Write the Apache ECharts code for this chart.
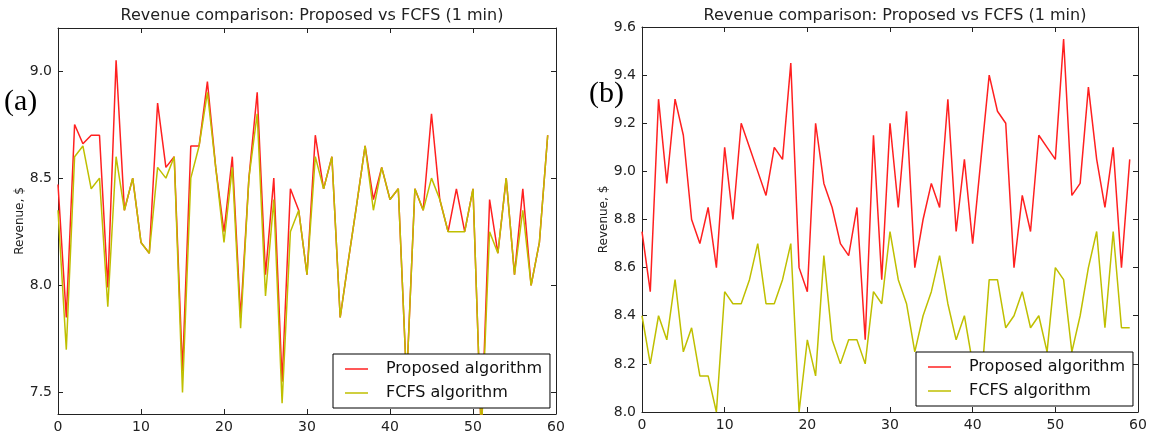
<!DOCTYPE html>
<html lang="en" style="height: 100%;width: 100%">
<head>
    <meta charset="utf-8">
</head>
<body style="height: 100%;width: 100%; margin: 0; background: #fff">
<div id="container" style="width: 1153px; height: 434px;"></div>
<script type="text/javascript" src="https://cdn.jsdelivr.net/npm/echarts@6/dist/echarts.min.js"></script>
<script type="text/javascript">
    // (a) panel values
    var proposedA = [8.47, 7.85, 8.75, 8.66, 8.70, 8.70, 7.99, 9.05, 8.35, 8.50,
        8.20, 8.15, 8.85, 8.55, 8.60, 7.60, 8.65, 8.65, 8.95, 8.55,
        8.25, 8.60, 7.85, 8.50, 8.90, 8.05, 8.50, 7.55, 8.45, 8.35,
        8.05, 8.70, 8.45, 8.60, 7.85, 8.12, 8.38, 8.65, 8.40, 8.55,
        8.40, 8.45, 7.55, 8.45, 8.35, 8.80, 8.40, 8.25, 8.45, 8.25,
        8.45, 7.30, 8.40, 8.15, 8.50, 8.05, 8.45, 8.00, 8.20, 8.70];
    var fcfsA = [8.35, 7.70, 8.60, 8.65, 8.45, 8.50, 7.90, 8.60, 8.35, 8.50,
        8.20, 8.15, 8.55, 8.50, 8.60, 7.50, 8.50, 8.65, 8.90, 8.55,
        8.20, 8.55, 7.80, 8.50, 8.80, 7.95, 8.40, 7.45, 8.25, 8.35,
        8.05, 8.60, 8.45, 8.60, 7.85, 8.12, 8.38, 8.65, 8.35, 8.55,
        8.40, 8.45, 7.55, 8.45, 8.35, 8.50, 8.40, 8.25, 8.25, 8.25,
        8.45, 7.30, 8.25, 8.15, 8.50, 8.05, 8.35, 8.00, 8.20, 8.70];

    // (b) panel values
    var proposedB = [8.75, 8.50, 9.30, 8.95, 9.30, 9.15, 8.80, 8.70, 8.85, 8.60,
        9.10, 8.80, 9.20, 9.10, 9.00, 8.90, 9.10, 9.05, 9.45, 8.60,
        8.50, 9.20, 8.95, 8.85, 8.70, 8.65, 8.85, 8.30, 9.15, 8.55,
        9.20, 8.85, 9.25, 8.60, 8.80, 8.95, 8.85, 9.30, 8.75, 9.05,
        8.70, 9.05, 9.40, 9.25, 9.20, 8.60, 8.90, 8.75, 9.15, 9.10,
        9.05, 9.55, 8.90, 8.95, 9.35, 9.05, 8.85, 9.10, 8.60, 9.05];
    var fcfsB = [8.40, 8.20, 8.40, 8.30, 8.55, 8.25, 8.35, 8.15, 8.15, 8.00,
        8.50, 8.45, 8.45, 8.55, 8.70, 8.45, 8.45, 8.55, 8.70, 8.00,
        8.30, 8.15, 8.65, 8.30, 8.20, 8.30, 8.30, 8.20, 8.50, 8.45,
        8.75, 8.55, 8.45, 8.25, 8.40, 8.50, 8.65, 8.45, 8.30, 8.40,
        8.20, 8.10, 8.55, 8.55, 8.35, 8.40, 8.50, 8.35, 8.40, 8.25,
        8.60, 8.55, 8.25, 8.40, 8.60, 8.75, 8.35, 8.75, 8.35, 8.35];

    var yTicksA = [7.5, 8.0, 8.5, 9.0];
    var seriesNames = ['Proposed algorithm', 'FCFS algorithm'];
    var titleText = 'Revenue comparison: Proposed vs FCFS (1 min)';
    var yName = 'Revenue, $';

    var dom = document.getElementById('container');
    var myChart = echarts.init(dom, null, {renderer: 'canvas'});

    var FONT = 'DejaVu Sans';
    var frameColor = '#222';
    var red = '#ff2020';
    var yellow = '#bfbf00';

    function pairs(arr) {
        return arr.map(function (v, i) { return [i, v]; });
    }

    function xAx(grid, pos, showLabel) {
        return {
            type: 'value', gridIndex: grid, position: pos,
            min: 0, max: 60, interval: 10,
            axisLine: {show: true, onZero: false, lineStyle: {color: frameColor, width: 1}},
            axisTick: {show: true, inside: true, length: 5, lineStyle: {color: frameColor}},
            axisLabel: {show: showLabel, color: '#222', fontFamily: FONT, fontSize: 14, margin: 6},
            splitLine: {show: false}
        };
    }

    function yAx(grid, pos, showLabel, min, max, interval, ticks) {
        var ax = {
            type: 'value', gridIndex: grid, position: pos,
            min: min, max: max,
            axisLine: {show: true, onZero: false, lineStyle: {color: frameColor, width: 1}},
            axisTick: {show: true, inside: true, length: 5, lineStyle: {color: frameColor}},
            axisLabel: {
                show: showLabel, color: '#222', fontFamily: FONT, fontSize: 14, margin: 6,
                formatter: function (v) { return v.toFixed(1); }
            },
            splitLine: {show: false}
        };
        if (interval) ax.interval = interval;
        if (ticks) {
            ax.axisTick.customValues = ticks;
            ax.axisLabel.customValues = ticks;
        }
        if (showLabel) {
            ax.name = yName;
            ax.nameLocation = 'middle';
            ax.nameRotate = 90;
            ax.nameGap = 30;
            ax.nameTextStyle = {fontFamily: FONT, fontSize: 12, color: '#222'};
        }
        return ax;
    }

    function legendAt(left, top) {
        return {
            orient: 'vertical', left: left, top: top,
            data: seriesNames,
            icon: 'rect',
            backgroundColor: '#fff',
            borderColor: '#000', borderWidth: 1,
            borderRadius: 0,
            padding: [6, 8, 6, 12],
            itemWidth: 23, itemHeight: 1.5, itemGap: 6,
            selectedMode: false,
            textStyle: {fontFamily: FONT, fontSize: 16, color: '#111', lineHeight: 18, padding: [0, 0, 0, 13]}
        };
    }

    var option = {
        animation: false,
        backgroundColor: '#fff',
        title: [
            {text: titleText, left: 307, top: 3, textAlign: 'center',
                textStyle: {fontFamily: FONT, fontSize: 16, fontWeight: 'normal', color: '#222'}},
            {text: titleText, left: 890, top: 3, textAlign: 'center',
                textStyle: {fontFamily: FONT, fontSize: 16, fontWeight: 'normal', color: '#222'}}
        ],
        grid: [
            {left: 58, right: 597, top: 28, bottom: 20},
            {left: 642, right: 15, top: 27, bottom: 22}
        ],
        xAxis: [
            xAx(0, 'bottom', true), xAx(0, 'top', false),
            xAx(1, 'bottom', true), xAx(1, 'top', false)
        ],
        yAxis: [
            yAx(0, 'left', true, 7.4, 9.2, null, yTicksA), yAx(0, 'right', false, 7.4, 9.2, null, yTicksA),
            yAx(1, 'left', true, 8.0, 9.6, 0.2, null), yAx(1, 'right', false, 8.0, 9.6, 0.2, null)
        ],
        legend: [legendAt(333, 354), legendAt(916, 352)],
        graphic: [
            {type: 'text', left: 4, top: 87, style: {text: '(a)', font: '30px "Liberation Serif"', fill: '#000'}},
            {type: 'text', left: 589, top: 79, style: {text: '(b)', font: '30px "Liberation Serif"', fill: '#000'}}
        ],
        series: [
            {name: seriesNames[0], type: 'line', xAxisIndex: 0, yAxisIndex: 0, data: pairs(proposedA),
                symbol: 'none', lineStyle: {color: red, width: 1.5}, itemStyle: {color: red}},
            {name: seriesNames[1], type: 'line', xAxisIndex: 0, yAxisIndex: 0, data: pairs(fcfsA),
                symbol: 'none', lineStyle: {color: yellow, width: 1.5}, itemStyle: {color: yellow}},
            {name: seriesNames[0], type: 'line', xAxisIndex: 2, yAxisIndex: 2, data: pairs(proposedB),
                symbol: 'none', lineStyle: {color: red, width: 1.5}, itemStyle: {color: red}},
            {name: seriesNames[1], type: 'line', xAxisIndex: 2, yAxisIndex: 2, data: pairs(fcfsB),
                symbol: 'none', lineStyle: {color: yellow, width: 1.5}, itemStyle: {color: yellow}}
        ]
    };
    myChart.setOption(option);
</script>
</body>
</html>
